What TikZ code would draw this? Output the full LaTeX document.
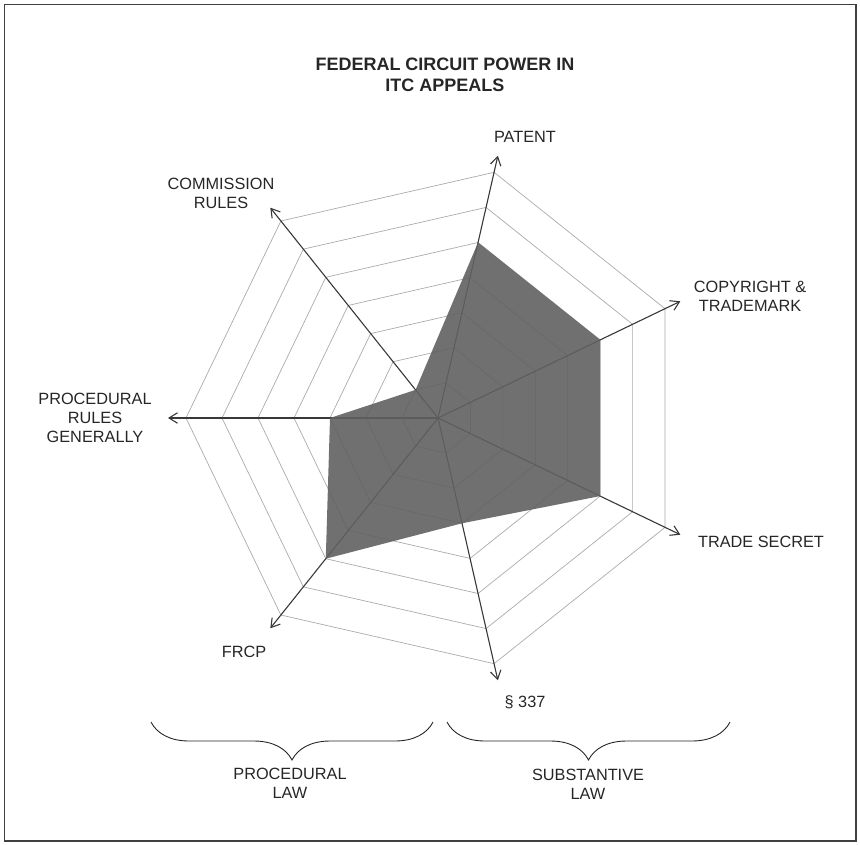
\documentclass[tikz,border=0pt]{standalone}
\usepackage{fontspec}
\setmainfont{Liberation Sans}
\usetikzlibrary{arrows.meta,decorations.pathreplacing,calc}
\begin{document}
\begin{tikzpicture}[x=1pt,y=-1pt,
  gridline/.style={draw=black!33, line width=0.7pt},
  axisline/.style={draw=black!78, line width=1.1pt, -{Straight Barb[length=8.5pt,width=10.5pt]}},
  datafill/.style={fill=black!62, fill opacity=0.9, draw=none},
  lbl/.style={font=\fontsize{16.3}{19}\selectfont, align=center, inner sep=0pt, text=black!85},
  ttl/.style={font=\fontsize{18}{21}\selectfont\bfseries, align=center, inner sep=0pt, text=black!85},
  bracepath/.style={draw=black!85, line width=0.9pt, decorate, decoration={brace, amplitude=38pt, mirror}},
]
\useasboundingbox (0,0) rectangle (860,844);
\draw[black!75, line width=1.6pt] (4.5,4.5) rectangle (856,841);
\node[ttl] (title) at (445,74.5) {FEDERAL CIRCUIT POWER IN\\ITC APPEALS};
\coordinate (C) at (438,418);
\begin{scope}[shift={(C)}]
  \foreach \k in {1,...,7}{
    \pgfmathsetmacro\rr{36*\k}
    \draw[gridline] (180:\rr pt) -- (128.571:\rr pt) -- (77.143:\rr pt) -- (25.714:\rr pt) -- (-25.714:\rr pt) -- (-77.143:\rr pt) -- (-128.571:\rr pt) -- cycle;
  }
  \coordinate (tProc) at (180:270pt);
  \coordinate (tComm) at (128.571:269pt);
  \coordinate (tPat) at (77.143:269pt);
  \coordinate (tCopy) at (25.714:269pt);
  \coordinate (tTrade) at (-25.714:269pt);
  \coordinate (tSec) at (-77.143:269pt);
  \coordinate (tFrcp) at (-128.571:269pt);
  \coordinate (vProc) at (180:108pt);
  \coordinate (vComm) at (128.571:36pt);
  \coordinate (vPat) at (77.143:180pt);
  \coordinate (vCopy) at (25.714:180pt);
  \coordinate (vTrade) at (-25.714:180pt);
  \coordinate (vSec) at (-77.143:108pt);
  \coordinate (vFrcp) at (-128.571:180pt);
\end{scope}
\foreach \t in {tProc,tComm,tPat,tCopy,tTrade,tSec,tFrcp}{
  \draw[axisline] (C) -- (\t);
}
\fill[datafill] (vProc) -- (vComm) -- (vPat) -- (vCopy) -- (vTrade) -- (vSec) -- (vFrcp) -- cycle;
\node[lbl] (lPat) at (525,137) {PATENT};
\node[lbl] (lComm) at (221,193) {COMMISSION\\RULES};
\node[lbl] (lCopy) at (750,296.5) {COPYRIGHT \&\\TRADEMARK};
\node[lbl] (lTrade) at (761,542) {TRADE SECRET};
\node[lbl] (lProc) at (95,418) {PROCEDURAL\\RULES\\GENERALLY};
\node[lbl] (lFrcp) at (244,652) {FRCP};
\node[lbl] (lSec) at (525,702) {§ 337};
\coordinate (bL1) at (151,722);
\coordinate (bL2) at (433,722);
\coordinate (bR1) at (447,722);
\coordinate (bR2) at (730,722);
\draw[bracepath] (bL1) -- (bL2);
\draw[bracepath] (bR1) -- (bR2);
\node[lbl] (lPL) at (290,783) {PROCEDURAL\\LAW};
\node[lbl] (lSL) at (588,784) {SUBSTANTIVE\\LAW};
\end{tikzpicture}
\end{document}
